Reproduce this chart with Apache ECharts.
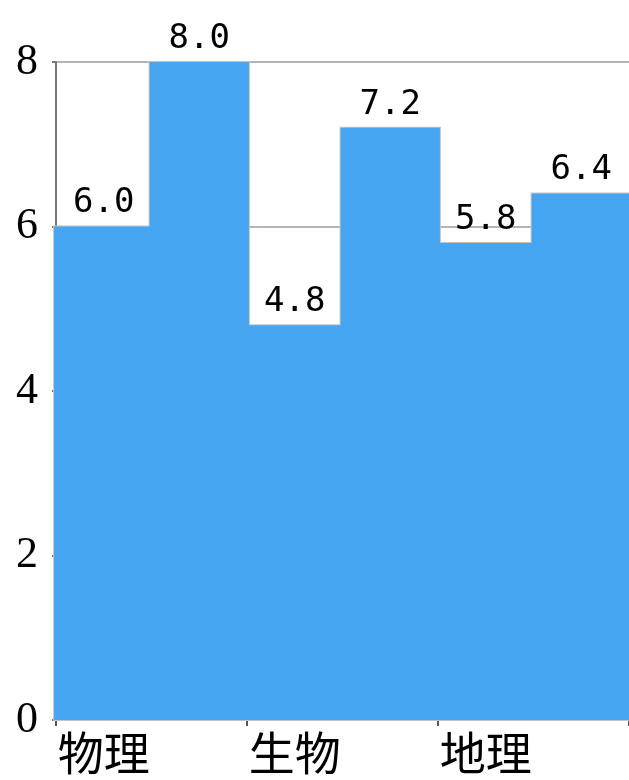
<!DOCTYPE html>
<html><head><meta charset="utf-8">
<script src="https://cdn.jsdelivr.net/npm/echarts@6/dist/echarts.min.js"></script>
<style>html,body{margin:0;padding:0;background:#fff}#c{width:629px;height:780px}</style>
</head><body><div id="c"></div>
<script>
const categories = ['物理', '', '生物', '', '地理', ''];
const values = [6.0, 8.0, 4.8, 7.2, 5.8, 6.4];
const yMin = 0, yMax = 8, yStep = 2;

const barData = values.map((v, i) => [i, v]);
const widthRatio = 1.04;

function barRect(api) {
  const top = api.coord([api.value(0), api.value(1)]);
  const base = api.coord([api.value(0), 0]);
  const bw = api.size([1, 0])[0] * widthRatio;
  return {x: top[0] - bw / 2, y: top[1], width: bw, height: base[1] - top[1]};
}

const chart = echarts.init(document.getElementById('c'), null, {renderer: 'canvas'});
chart.setOption({
  animation: false,
  backgroundColor: '#ffffff',
  grid: {left: 56, right: -3, top: 62, bottom: 60, containLabel: false},
  xAxis: {
    type: 'category',
    data: categories,
    boundaryGap: true,
    axisLine: {show: true, lineStyle: {color: '#888', width: 2}},
    axisTick: {show: true, length: 6, lineStyle: {color: '#555', width: 2}},
    axisLabel: {interval: 1, fontSize: 46, color: '#000', margin: 10,
      fontFamily: 'Noto Sans CJK SC'},
    splitLine: {show: false}
  },
  yAxis: {
    type: 'value',
    min: yMin, max: yMax, interval: yStep,
    axisLine: {show: true, lineStyle: {color: '#777', width: 2}},
    axisTick: {show: true, length: 4, lineStyle: {color: '#777', width: 2}},
    axisLabel: {fontSize: 44, color: '#000', margin: 18, fontFamily: 'Liberation Serif'},
    splitLine: {show: true, lineStyle: {color: '#b4b4b4', width: 2}}
  },
  series: [{
    type: 'custom',
    name: 'outline',
    data: barData,
    encode: {x: 0, y: 1},
    z: 2,
    renderItem: (params, api) => ({
      type: 'rect',
      shape: barRect(api),
      style: {fill: 'none', stroke: '#c4c4c4', lineWidth: 2}
    })
  }, {
    type: 'custom',
    name: 'fill',
    data: barData,
    encode: {x: 0, y: 1},
    z: 3,
    renderItem: (params, api) => {
      const r = barRect(api);
      return {
        type: 'group',
        children: [{
          type: 'rect',
          shape: r,
          style: {fill: '#45a5f0'}
        }, {
          type: 'text',
          style: {
            text: api.value(1).toFixed(1),
            x: r.x + r.width / 2,
            y: r.y - 6,
            align: 'center',
            verticalAlign: 'bottom',
            fontSize: 34,
            fontFamily: 'DejaVu Sans Mono',
            fill: '#000'
          }
        }]
      };
    }
  }]
});
</script>
</body></html>
